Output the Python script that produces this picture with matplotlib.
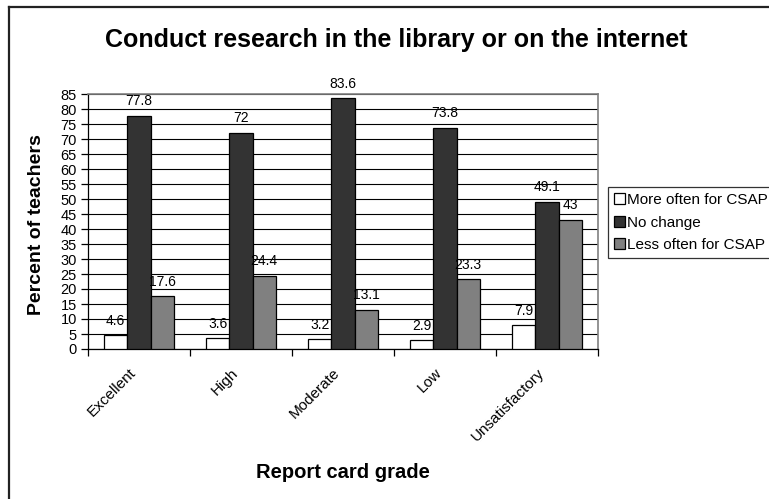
import matplotlib
matplotlib.use("Agg")
import matplotlib.pyplot as plt
from matplotlib.lines import Line2D
import numpy as np

plt.rcParams['font.family'] = ['Liberation Sans', 'DejaVu Sans']

categories = ["Excellent", "High", "Moderate", "Low", "Unsatisfactory"]
series_names = ["More often for CSAP", "No change", "Less often for CSAP"]
more_often = [4.6, 3.6, 3.2, 2.9, 7.9]
no_change = [77.8, 72, 83.6, 73.8, 49.1]
less_often = [17.6, 24.4, 13.1, 23.3, 43]
yticks = list(range(0, 90, 5))

colors = ["#ffffff", "#333333", "#808080"]

W, H = 769, 499
fig = plt.figure(figsize=(W / 100, H / 100), dpi=100)

# figure frame (left/top visible)
fig.add_artist(Line2D([9 / W, 9 / W], [0, 1 - 7 / H], transform=fig.transFigure,
                      color="#222222", lw=1.6))
fig.add_artist(Line2D([9 / W, 1], [1 - 7 / H, 1 - 7 / H], transform=fig.transFigure,
                      color="#222222", lw=1.6))

left, right, top, bottom = 88, 598, 94, 349
ax = fig.add_axes([left / W, 1 - bottom / H, (right - left) / W, (bottom - top) / H])

x = np.arange(len(categories))
bw = 0.228
all_series = [more_often, no_change, less_often]
bars = []
for i, (vals, c, name) in enumerate(zip(all_series, colors, series_names)):
    b = ax.bar(x + (i - 1) * bw, vals, width=bw, color=c, edgecolor="black",
               linewidth=0.9, label=name, zorder=3)
    bars.append(b)
    for xi, v in zip(x + (i - 1) * bw, vals):
        ax.annotate(f"{v:g}", (xi, v), xytext=(0, 10.5), textcoords="offset points",
                    ha="center", va="center", fontsize=10, zorder=4)

ax.set_xlim(-0.5, len(categories) - 0.5)
ax.set_ylim(0, 85)
ax.set_yticks(yticks)
ax.set_yticklabels([str(t) for t in yticks], fontsize=10.5)
ax.yaxis.grid(True, color="black", linewidth=0.8, zorder=0)
ax.set_axisbelow(True)

ax.set_xticks(np.arange(-0.5, len(categories), 1.0))
ax.set_xticklabels([])
ax.set_xticks(x - 0.1, minor=True)
ax.set_xticklabels(categories, minor=True, rotation=45, ha="right",
                   rotation_mode="anchor", fontsize=11)
ax.tick_params(axis="x", which="minor", length=0, pad=12)
ax.tick_params(axis="x", which="major", length=5, width=0.9, direction="out")
ax.tick_params(axis="y", length=5, width=0.9, direction="out", pad=3)

for s in ["left", "bottom"]:
    ax.spines[s].set_color("black")
    ax.spines[s].set_linewidth(0.9)
for s in ["top", "right"]:
    ax.spines[s].set_color("#808080")
    ax.spines[s].set_linewidth(1.2)

fig.text(396 / W, 1 - 40 / H, "Conduct research in the library or on the internet",
         ha="center", va="center", fontsize=18, fontweight="bold")
fig.text(37 / W, 1 - 225 / H, "Percent of teachers", rotation=90,
         ha="center", va="center", fontsize=14, fontweight="bold")
fig.text(343 / W, 1 - 472 / H, "Report card grade",
         ha="center", va="center", fontsize=14.5, fontweight="bold")

leg = fig.legend(handles=bars, labels=series_names, loc="upper left",
                 bbox_to_anchor=(608 / W, 1 - 187 / H), fontsize=11,
                 frameon=True, fancybox=False, edgecolor="black",
                 handlelength=0.72, handleheight=0.72, handletextpad=0.15,
                 borderpad=0.4, labelspacing=0.55, borderaxespad=0)
leg.get_frame().set_linewidth(0.9)

fig.savefig("out.png", dpi=100)
